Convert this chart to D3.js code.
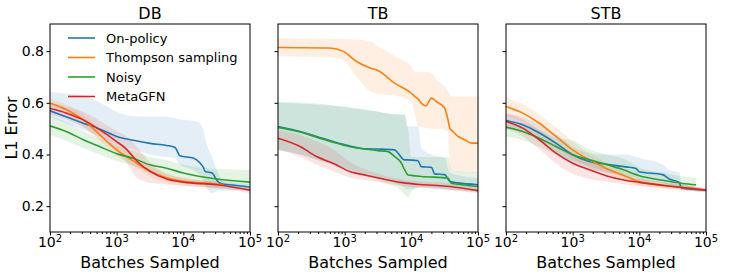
<!DOCTYPE html>
<html>
<head>
<meta charset="utf-8">
<script src="https://cdn.jsdelivr.net/npm/d3@7"></script>
<style>
  body { margin: 0; background: #fff; }
  svg { font-family: "DejaVu Sans", sans-serif; }
</style>
</head>
<body>
<svg id="chart" width="747" height="279"></svg>
<script>
// [batches, mean, lower, upper]
const dbOnPolicy = [
  [100, 0.569, 0.545, 0.642], [178, 0.545, 0.52, 0.636], [316, 0.521, 0.495, 0.628],
  [562, 0.498, 0.47, 0.6], [1000, 0.47, 0.44, 0.565], [1780, 0.455, 0.42, 0.548],
  [3160, 0.443, 0.4, 0.547], [5620, 0.435, 0.39, 0.547], [7500, 0.427, 0.385, 0.54],
  [8910, 0.395, 0.36, 0.535], [14100, 0.386, 0.34, 0.53], [17800, 0.367, 0.32, 0.52],
  [20000, 0.35, 0.3, 0.495], [21400, 0.334, 0.28, 0.46], [26900, 0.328, 0.25, 0.39],
  [33100, 0.295, 0.26, 0.33], [38000, 0.286, 0.26, 0.298], [63100, 0.28, 0.262, 0.29],
  [100000, 0.274, 0.258, 0.286],
];
const dbThompson = [
  [100, 0.599, 0.58, 0.618], [178, 0.573, 0.553, 0.593], [316, 0.534, 0.51, 0.556],
  [562, 0.476, 0.45, 0.5], [1000, 0.418, 0.395, 0.44], [1780, 0.375, 0.355, 0.395],
  [3160, 0.335, 0.315, 0.355], [5620, 0.31, 0.29, 0.325], [10000, 0.296, 0.28, 0.31],
  [20000, 0.29, 0.272, 0.302], [39800, 0.283, 0.265, 0.296],
];
const dbNoisy = [
  [100, 0.511, 0.475, 0.55], [178, 0.488, 0.452, 0.525], [316, 0.457, 0.425, 0.49],
  [562, 0.43, 0.4, 0.462], [1000, 0.403, 0.375, 0.435], [1780, 0.385, 0.355, 0.415],
  [3160, 0.36, 0.33, 0.39], [5620, 0.347, 0.315, 0.378], [10000, 0.328, 0.295, 0.36],
  [17800, 0.315, 0.28, 0.35], [31600, 0.305, 0.27, 0.345], [100000, 0.293, 0.262, 0.34],
];
const dbMetaGFN = [
  [100, 0.578, 0.555, 0.6], [178, 0.56, 0.535, 0.585], [316, 0.534, 0.505, 0.565],
  [562, 0.495, 0.46, 0.53], [1000, 0.45, 0.41, 0.49], [1410, 0.42, 0.37, 0.47],
  [2000, 0.375, 0.31, 0.43], [3160, 0.335, 0.29, 0.37], [5620, 0.305, 0.285, 0.325],
  [10000, 0.293, 0.278, 0.308], [31600, 0.283, 0.27, 0.295], [100000, 0.262, 0.25, 0.272],
];

const tbOnPolicy = [
  [100, 0.508, 0.418, 0.6], [214, 0.489, 0.4, 0.597], [380, 0.47, 0.38, 0.593],
  [676, 0.45, 0.36, 0.588], [1200, 0.433, 0.34, 0.583], [2140, 0.422, 0.32, 0.573],
  [3160, 0.421, 0.31, 0.565], [5620, 0.418, 0.29, 0.555], [6310, 0.405, 0.285, 0.555],
  [7940, 0.379, 0.27, 0.555], [8510, 0.379, 0.265, 0.51], [12600, 0.376, 0.27, 0.508],
  [14100, 0.353, 0.27, 0.425], [20000, 0.35, 0.268, 0.4], [22400, 0.325, 0.265, 0.395],
  [31600, 0.322, 0.264, 0.385], [38000, 0.295, 0.262, 0.33], [50100, 0.29, 0.26, 0.32],
  [100000, 0.283, 0.255, 0.31],
];
const tbThompson = [
  [100, 0.814, 0.78, 0.85], [600, 0.812, 0.775, 0.848], [955, 0.799, 0.765, 0.847],
  [1510, 0.76, 0.7, 0.845], [2400, 0.735, 0.645, 0.838], [3160, 0.725, 0.635, 0.82],
  [5620, 0.676, 0.628, 0.78], [10000, 0.637, 0.605, 0.74], [11200, 0.625, 0.56, 0.72],
  [12600, 0.615, 0.508, 0.72], [14100, 0.599, 0.505, 0.72], [16600, 0.588, 0.503, 0.72],
  [20000, 0.618, 0.5, 0.715], [23700, 0.605, 0.5, 0.69], [31600, 0.579, 0.495, 0.663],
  [35500, 0.534, 0.49, 0.645], [38000, 0.5, 0.341, 0.63], [39800, 0.495, 0.338, 0.624],
  [50100, 0.47, 0.333, 0.624], [63100, 0.457, 0.33, 0.624], [79400, 0.444, 0.328, 0.624],
  [100000, 0.444, 0.328, 0.624],
];
const tbNoisy = [
  [100, 0.505, 0.415, 0.605], [214, 0.487, 0.4, 0.6], [380, 0.467, 0.38, 0.597],
  [676, 0.447, 0.36, 0.59], [1200, 0.43, 0.34, 0.58], [2140, 0.42, 0.32, 0.572],
  [3160, 0.415, 0.3, 0.565], [4470, 0.411, 0.285, 0.558], [5620, 0.392, 0.276, 0.556],
  [7080, 0.367, 0.26, 0.555], [7940, 0.341, 0.245, 0.553], [8910, 0.321, 0.235, 0.5],
  [10000, 0.319, 0.255, 0.392], [14100, 0.315, 0.275, 0.39], [35500, 0.309, 0.265, 0.39],
  [39800, 0.289, 0.263, 0.34], [50100, 0.285, 0.262, 0.335], [100000, 0.276, 0.258, 0.33],
];
const tbMetaGFN = [
  [100, 0.463, 0.42, 0.495], [214, 0.431, 0.39, 0.475], [380, 0.392, 0.36, 0.45],
  [676, 0.365, 0.335, 0.42], [1200, 0.334, 0.31, 0.37], [2140, 0.319, 0.3, 0.34],
  [3800, 0.305, 0.29, 0.32], [6760, 0.292, 0.28, 0.305], [12000, 0.285, 0.272, 0.297],
  [38000, 0.276, 0.264, 0.288], [100000, 0.26, 0.25, 0.27],
];

const stbOnPolicy = [
  [100, 0.531, 0.5, 0.56], [178, 0.515, 0.485, 0.545], [316, 0.483, 0.45, 0.515],
  [562, 0.444, 0.41, 0.48], [1000, 0.399, 0.37, 0.43], [1780, 0.373, 0.345, 0.405],
  [3160, 0.362, 0.33, 0.4], [6310, 0.352, 0.315, 0.4], [8910, 0.346, 0.31, 0.39],
  [10000, 0.333, 0.3, 0.386], [22400, 0.322, 0.29, 0.36], [28200, 0.305, 0.28, 0.34],
  [39800, 0.292, 0.27, 0.33], [42700, 0.27, 0.26, 0.29], [100000, 0.262, 0.255, 0.27],
];
const stbThompson = [
  [100, 0.586, 0.55, 0.62], [178, 0.56, 0.525, 0.595], [316, 0.521, 0.485, 0.555],
  [562, 0.47, 0.435, 0.505], [1000, 0.418, 0.385, 0.45], [1780, 0.379, 0.35, 0.405],
  [3160, 0.347, 0.325, 0.37], [5620, 0.321, 0.3, 0.34], [10000, 0.295, 0.28, 0.31],
  [17800, 0.283, 0.27, 0.295], [56200, 0.27, 0.26, 0.28], [100000, 0.262, 0.255, 0.27],
];
const stbNoisy = [
  [100, 0.506, 0.47, 0.535], [178, 0.489, 0.455, 0.52], [316, 0.463, 0.43, 0.495],
  [562, 0.431, 0.4, 0.465], [1000, 0.399, 0.375, 0.455], [1780, 0.38, 0.355, 0.42],
  [3160, 0.362, 0.335, 0.4], [5620, 0.342, 0.315, 0.385], [10000, 0.318, 0.295, 0.35],
  [22400, 0.3, 0.28, 0.33], [44700, 0.288, 0.272, 0.315], [70800, 0.283, 0.265, 0.31],
];
const stbMetaGFN = [
  [100, 0.528, 0.5, 0.56], [178, 0.502, 0.47, 0.535], [316, 0.457, 0.42, 0.495],
  [562, 0.405, 0.365, 0.445], [1000, 0.366, 0.325, 0.405], [1780, 0.341, 0.305, 0.375],
  [3160, 0.318, 0.295, 0.345], [5620, 0.302, 0.285, 0.32], [10000, 0.292, 0.278, 0.305],
  [31600, 0.276, 0.266, 0.287], [100000, 0.262, 0.255, 0.27],
];

const seriesNames = ["On-policy", "Thompson sampling", "Noisy", "MetaGFN"];
const colors = ["#1f77b4", "#ff7f0e", "#2ca02c", "#d62728"];
const panelTitles = ["DB", "TB", "STB"];
const panelSeries = [
  [dbOnPolicy, dbThompson, dbNoisy, dbMetaGFN],
  [tbOnPolicy, tbThompson, tbNoisy, tbMetaGFN],
  [stbOnPolicy, stbThompson, stbNoisy, stbMetaGFN],
];
const xMajorTicks = [100, 1000, 10000, 100000];
const xTickExponents = ["2", "3", "4", "5"];
const yTicks = [0.2, 0.4, 0.6, 0.8];

const svg = d3.select("#chart");
const panelLefts = [50, 278, 506];
const width = 200;
const marginTop = 24;
const height = 208;

const x = d3.scaleLog().domain([100, 100000]).range([0, width]);
const y = d3.scaleLinear().domain([0.1, 0.905]).range([height, 0]);

const minorTicks = [];
[100, 1000, 10000].forEach((d) => {
  for (let k = 2; k <= 9; k++) minorTicks.push(d * k);
});

const line = d3
  .line()
  .x((d) => x(d[0]))
  .y((d) => y(d[1]))
  .curve(d3.curveMonotoneX);

const band = d3
  .area()
  .x((d) => x(d[0]))
  .y0((d) => y(d[2]))
  .y1((d) => y(d[3]))
  .curve(d3.curveMonotoneX);

const defs = svg.append("defs");

panelSeries.forEach((series, p) => {
  defs
    .append("clipPath")
    .attr("id", `clip-${p}`)
    .append("rect")
    .attr("x", 0)
    .attr("y", 0)
    .attr("width", width)
    .attr("height", height);

  const g = svg
    .append("g")
    .attr("transform", `translate(${panelLefts[p]},${marginTop})`);

  const plot = g.append("g").attr("clip-path", `url(#clip-${p})`);

  // bandas de desvio
  series.forEach((s, i) => {
    plot
      .append("path")
      .datum(s)
      .attr("fill", colors[i])
      .attr("fill-opacity", 0.12)
      .attr("d", band);
  });

  series.forEach((s, i) => {
    plot
      .append("path")
      .datum(s)
      .attr("fill", "none")
      .attr("stroke", colors[i])
      .attr("stroke-width", 1.6)
      .attr("d", line);
  });

  // eixo x
  const xAxis = g.append("g").attr("transform", `translate(0,${height})`);
  xAxis
    .append("g")
    .call(d3.axisBottom(x).tickValues(xMajorTicks).tickSize(3.5).tickFormat(""))
    .call((a) => a.select(".domain").remove());
  xAxis
    .append("g")
    .call(d3.axisBottom(x).tickValues(minorTicks).tickSize(2).tickFormat(""))
    .call((a) => a.select(".domain").remove());

  xMajorTicks.forEach((t, i) => {
    const label = xAxis
      .append("text")
      .attr("x", x(t))
      .attr("y", 15)
      .attr("text-anchor", "middle")
      .attr("font-size", 14)
      .attr("fill", "#000");
    label.append("tspan").text("10");
    label
      .append("tspan")
      .attr("dy", -5.5)
      .attr("font-size", 10)
      .text(xTickExponents[i]);
  });

  // eixo y
  const yAxis = g
    .append("g")
    .call(d3.axisLeft(y).tickValues(yTicks).tickSize(3.5).tickFormat(p === 0 ? d3.format(".1f") : ""))
    .call((a) => a.select(".domain").remove());
  yAxis.selectAll("text").attr("font-size", 14).attr("font-family", "DejaVu Sans").attr("fill", "#000").attr("x", -6);

  g.append("rect")
    .attr("x", 0)
    .attr("y", 0)
    .attr("width", width)
    .attr("height", height)
    .attr("fill", "none")
    .attr("stroke", "#000")
    .attr("stroke-width", 1);

  g.append("text")
    .attr("x", width / 2)
    .attr("y", -5)
    .attr("text-anchor", "middle")
    .attr("font-size", 16)
    .text(panelTitles[p]);

  g.append("text")
    .attr("x", width / 2)
    .attr("y", height + 36)
    .attr("text-anchor", "middle")
    .attr("font-size", 16)
    .text("Batches Sampled");
});

svg
  .append("text")
  .attr("transform", `translate(17,${marginTop + height / 2}) rotate(-90)`)
  .attr("text-anchor", "middle")
  .attr("font-size", 16)
  .text("L1 Error");

// legenda
const legend = svg.append("g").attr("transform", "translate(68,38)");
seriesNames.forEach((name, i) => {
  legend
    .append("line")
    .attr("x1", 0)
    .attr("x2", 27)
    .attr("y1", i * 19.5)
    .attr("y2", i * 19.5)
    .attr("stroke", colors[i])
    .attr("stroke-width", 1.6);
  legend
    .append("text")
    .attr("x", 38)
    .attr("y", i * 19.5 + 4.5)
    .attr("font-size", 13)
    .text(name);
});
</script>
</body>
</html>
